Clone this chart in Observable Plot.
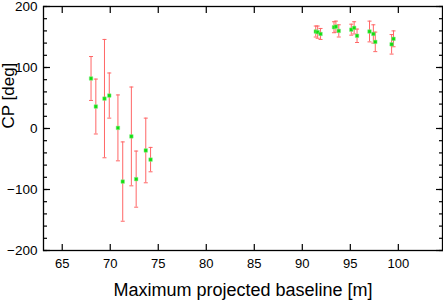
<!DOCTYPE html>
<html><head><meta charset="utf-8">
<script src="https://cdn.jsdelivr.net/npm/d3@7"></script>
<script src="https://cdn.jsdelivr.net/npm/@observablehq/plot@0.6"></script>
<style>body{margin:0;background:#fff}</style>
</head><body><div id="chart"></div>
<script>
const baseline = [68.0,68.5,69.4,69.9,70.8,71.3,72.2,72.7,73.7,74.2,
  91.4,91.6,91.9,93.3,93.5,93.8,95.1,95.4,95.7,97.0,97.4,97.6,99.3,99.5];
const cp = [82,36,49,54,1,-87,-13,-83,-36,-51,
  159,158,155,166,167,160,162,165,152,159,155,142,138,147];
const cpErr = [36,45,97,37,54,65,81,46,53,20,
  9,10,9,9,9,10,9,10,11,17,15,16,16,13];
const xTicks = [65,70,75,80,85,90,95,100];
const yTicks = [-200,-100,0,100,200];
const yMinor = d3.range(-200, 201, 20);

const data = baseline.map((b,i)=>({x:b, y:cp[i], lo:cp[i]-cpErr[i], hi:cp[i]+cpErr[i]}));
const cap = {draw(ctx, size){ ctx.moveTo(-2,0); ctx.lineTo(2,0); }};
const font = "Liberation Sans, Arial, Helvetica, sans-serif";

const chart = Plot.plot({
  width: 443, height: 300,
  marginLeft: 43, marginTop: 6, marginRight: 1, marginBottom: 50,
  style: {fontFamily: font, background: "#fff", color: "#000"},
  x: {domain: [63.05, 104.6]},
  y: {domain: [-200, 200]},
  marks: [
    Plot.frame({stroke: "#000", strokeWidth: 1.3}),
    Plot.axisX({ticks: xTicks, tickSize: 0, tickPadding: 8, fontSize: 13, label: null}),
    Plot.axisX({ticks: xTicks, tickSize: -6, tickFormat: () => "", label: null, strokeWidth: 1.2}),
    Plot.axisX({anchor: "top", ticks: xTicks, tickSize: -6, tickFormat: () => "", label: null, strokeWidth: 1.2}),
    Plot.axisY({ticks: yTicks, tickSize: 0, tickPadding: 6, fontSize: 13.5, label: null}),
    Plot.axisY({ticks: yTicks, tickSize: -7, tickFormat: () => "", label: null, strokeWidth: 1.2}),
    Plot.axisY({ticks: yMinor, tickSize: -4, tickFormat: () => "", label: null, strokeWidth: 1.2}),
    Plot.axisY({anchor: "right", ticks: yTicks, tickSize: -7, tickFormat: () => "", label: null, strokeWidth: 1.2}),
    Plot.axisY({anchor: "right", ticks: yMinor, tickSize: -4, tickFormat: () => "", label: null, strokeWidth: 1.2}),
    Plot.ruleX(data, {x: "x", y1: "lo", y2: "hi", stroke: "#f66", strokeWidth: 1}),
    Plot.dot(data, {x: "x", y: "lo", symbol: cap, stroke: "#f66", strokeWidth: 1, r: 2}),
    Plot.dot(data, {x: "x", y: "hi", symbol: cap, stroke: "#f66", strokeWidth: 1, r: 2}),
    Plot.dot(data, {x: "x", y: "y", symbol: "square", r: 2, fill: "#11dd11", stroke: "#8e8", strokeWidth: 0.5}),
    Plot.text(["Maximum projected baseline [m]"], {frameAnchor: "bottom", dy: 45, fontSize: 18, fill: "#000"}),
    Plot.text(["CP [deg]"], {frameAnchor: "left", rotate: -90, dx: -35, fontSize: 17, fill: "#000"})
  ]
});
document.getElementById("chart").append(chart);
</script></body></html>
